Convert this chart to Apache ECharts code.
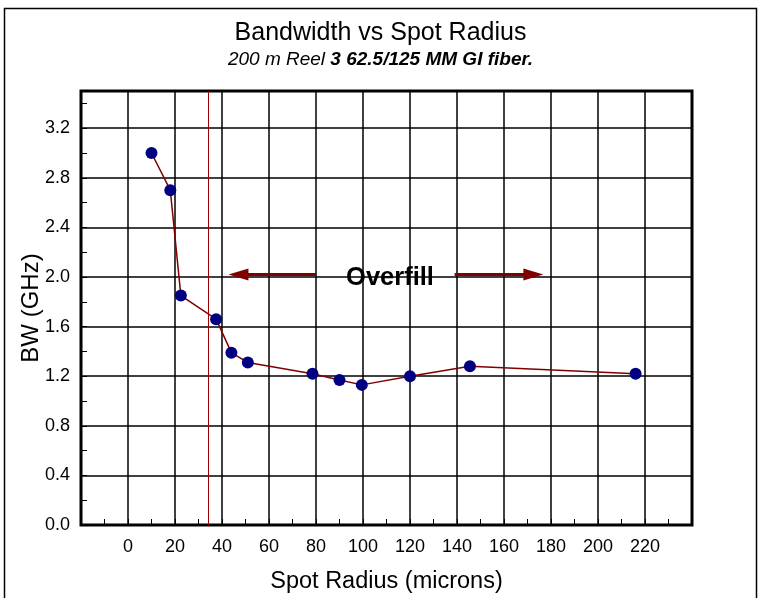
<!DOCTYPE html>
<html>
<head>
<meta charset="utf-8">
<script src="https://cdn.jsdelivr.net/npm/echarts@6/dist/echarts.min.js"></script>
<style>
html,body{margin:0;padding:0;background:#fff;}
#chart{width:761px;height:598px;}
</style>
</head>
<body>
<div id="chart"></div>
<script>
// ---- data ----
const spotRadius = [10, 18, 22.5, 37.5, 44, 51, 78.5, 90, 99.5, 120, 145.5, 216];
const bandwidth  = [3.0, 2.7, 1.85, 1.66, 1.39, 1.31, 1.22, 1.17, 1.13, 1.20, 1.28, 1.22];
const xTickLabels = [0, 20, 40, 60, 80, 100, 120, 140, 160, 180, 200, 220];
const yTickLabels = ['0.0','0.4','0.8','1.2','1.6','2.0','2.4','2.8','3.2'];
const overfillLimit = 34;          // red vertical marker (microns)
const arrowLeftX  = [80, 47];      // tail, head
const arrowRightX = [139, 172.5];  // tail, head
const arrowY = 2.02;
const overfillText = 'Overfill';
const overfillPos = [111.5, 1.99];

const FONT = 'Liberation Sans, Arial, sans-serif';
const chart = echarts.init(document.getElementById('chart'), null, {renderer: 'canvas'});

function xLabel(v) {
  const r = Math.round(v);
  return xTickLabels.indexOf(r) >= 0 && Math.abs(v - r) < 1e-6 ? String(r) : '';
}
function yLabel(v) {
  const s = v.toFixed(1);
  return (Math.abs(v * 10 - Math.round(v * 10)) < 1e-6 && yTickLabels.indexOf(s) >= 0 && Math.round(v * 10) % 4 === 0) ? s : '';
}

const seriesData = spotRadius.map((x, i) => [x, bandwidth[i]]);

const option = {
  backgroundColor: '#fff',
  animation: false,
  title: {
    text: 'Bandwidth vs Spot Radius',
    subtext: '{it|200 m Reel }{bi|3 62.5/125 MM GI fiber.}',
    left: 'center',
    top: 16,
    itemGap: 4,
    textStyle: {fontFamily: FONT, fontSize: 25, fontWeight: 'normal', color: '#000'},
    subtextStyle: {
      fontFamily: FONT, fontSize: 19, color: '#000',
      rich: {
        it: {fontFamily: FONT, fontSize: 19, fontStyle: 'italic', color: '#000'},
        bi: {fontFamily: FONT, fontSize: 19, fontStyle: 'italic', fontWeight: 'bold', color: '#000'}
      }
    }
  },
  graphic: [{
    type: 'rect', silent: true, z: -1,
    shape: {x: 4.5, y: 8.5, width: 752, height: 640},
    style: {fill: 'none', stroke: '#000', lineWidth: 1.5}
  }],
  grid: {
    left: 81, right: 69, top: 91, bottom: 73,
    outerBoundsMode: 'none', containLabel: false,
    show: true, borderColor: '#000', borderWidth: 3, backgroundColor: 'transparent', z: 3
  },
  xAxis: [{
    type: 'value', min: -20, max: 240, interval: 10,
    name: 'Spot Radius (microns)', nameLocation: 'middle', nameGap: 45, nameMoveOverlap: false,
    nameTextStyle: {fontFamily: FONT, fontSize: 23.5, color: '#000'},
    axisLine: {show: false, onZero: false},
    axisTick: {show: true, inside: true, length: 6, lineStyle: {color: '#000', width: 1}},
    axisLabel: {show: true, formatter: xLabel, margin: 13, fontFamily: FONT, fontSize: 18, color: '#000', showMinLabel: true, showMaxLabel: true, hideOverlap: false},
    splitLine: {show: false}
  }, {
    type: 'value', min: -20, max: 240, interval: 20, position: 'bottom',
    axisLine: {show: false, onZero: false}, axisTick: {show: false}, axisLabel: {show: false},
    splitLine: {show: true, lineStyle: {color: '#000', width: 1.5}}
  }],
  yAxis: [{
    type: 'value', min: 0, max: 3.5, interval: 0.2,
    name: 'BW (GHz)', nameLocation: 'middle', nameGap: 38, nameMoveOverlap: false,
    nameTextStyle: {fontFamily: FONT, fontSize: 24, color: '#000'},
    axisLine: {show: false, onZero: false},
    axisTick: {show: true, inside: true, length: 6, lineStyle: {color: '#000', width: 1}},
    axisLabel: {show: true, formatter: yLabel, margin: 11, fontFamily: FONT, fontSize: 18, color: '#000', showMinLabel: true, showMaxLabel: true, hideOverlap: false},
    splitLine: {show: false}
  }, {
    type: 'value', min: 0, max: 3.5, interval: 0.4, position: 'left',
    axisLine: {show: false, onZero: false}, axisTick: {show: false}, axisLabel: {show: false},
    splitLine: {show: true, lineStyle: {color: '#000', width: 1.5}}
  }],
  series: [{
    type: 'line',
    xAxisIndex: 0, yAxisIndex: 0,
    data: seriesData,
    symbol: 'circle', symbolSize: 12,
    itemStyle: {color: '#000080'},
    lineStyle: {color: '#800000', width: 1.5},
    z: 5,
    markLine: {
      silent: true, animation: false,
      symbol: ['none', 'none'],
      label: {show: false},
      data: [
        {xAxis: overfillLimit, lineStyle: {color: '#A00000', width: 1, type: 'solid'}},
        [
          {coord: [arrowLeftX[0], arrowY], symbol: 'none', lineStyle: {color: '#800000', width: 3, type: 'solid'}},
          {coord: [arrowLeftX[1], arrowY], symbol: 'triangle', symbolSize: [12, 20]}
        ],
        [
          {coord: [arrowRightX[0], arrowY], symbol: 'none', lineStyle: {color: '#800000', width: 3, type: 'solid'}},
          {coord: [arrowRightX[1], arrowY], symbol: 'triangle', symbolSize: [12, 20]}
        ]
      ]
    },
    markPoint: {
      silent: true, animation: false,
      data: [{
        coord: overfillPos, symbol: 'rect', symbolSize: 1,
        itemStyle: {color: 'rgba(0,0,0,0)'},
        label: {show: true, position: 'inside', formatter: overfillText, fontFamily: FONT, fontSize: 25.5, fontWeight: 'bold', color: '#000'}
      }]
    }
  }]
};
chart.setOption(option);
</script>
</body>
</html>
